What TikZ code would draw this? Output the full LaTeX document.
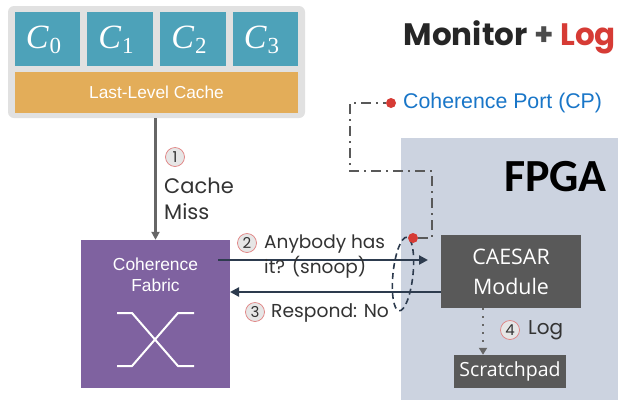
\documentclass[tikz,border=0pt]{standalone}
\usepackage{fontspec}
\setmainfont{Poppins}
\newfontfamily\lib{Liberation Sans}
\newfontfamily\lserif{Liberation Serif}
\newfontfamily\osans{Open Sans}
\newfontfamily\carl{Carlito}
\usetikzlibrary{arrows.meta,shapes.geometric}
\definecolor{cpubg}{HTML}{E1E1E1}
\definecolor{core}{HTML}{4DA2B9}
\definecolor{llc}{HTML}{E3AD59}
\definecolor{fabric}{HTML}{7F62A0}
\definecolor{fpgabg}{HTML}{CCD3E0}
\definecolor{darkbox}{HTML}{595959}
\definecolor{msgc}{HTML}{2D3B4E}
\definecolor{cpblue}{HTML}{1976C8}
\definecolor{redc}{HTML}{D63B35}
\definecolor{txt}{HTML}{333333}
\definecolor{grayline}{HTML}{666666}
\definecolor{stepring}{HTML}{E08080}
\definecolor{stepfill}{HTML}{E6E6E6}
\newcommand{\coresym}[1]{{\lserif\itshape C}\kern1pt\raisebox{-5pt}{\lserif\fontsize{23}{23}\selectfont #1}}
\begin{document}
\begin{tikzpicture}[x=1pt,y=-1pt,
  corebox/.style={draw=none,fill=core,inner sep=0pt,minimum width=65pt,minimum height=54pt,text=white,font=\fontsize{34}{38}\selectfont},
  darkbox/.style={fill=darkbox,inner sep=0pt,text=white,align=center},
  msg/.style={draw=msgc,line width=2.6pt,-{Triangle[length=9pt,width=9pt]}},
  stepnum/.style={circle,draw=stepring,line width=0.7pt,fill=stepfill,inner sep=0pt,minimum size=19pt,text=txt,font=\fontsize{15}{15}\selectfont},
  lbl/.style={text=txt,anchor=west,inner sep=0pt,align=left},
  reddot/.style={circle,fill=redc,inner sep=0pt,minimum size=10pt},
  port/.style={draw=black!65,line width=2.8pt,dash pattern=on 10pt off 5pt on 2pt off 5pt}
]
\useasboundingbox (0,0) rectangle (618,400);
\fill[white] (0,0) rectangle (618,400);

% FPGA region
\fill[fpgabg] (401,138) rectangle (618,400);
\node[anchor=east,inner sep=0pt,font=\carl\bfseries\fontsize{46}{46}\selectfont] (fpga) at (607,177) {FPGA};

% CPU
\node[fill=cpubg,rounded corners=6pt,minimum width=297pt,minimum height=112pt,inner sep=0pt] (cpu) at (156.5,62) {};
\node[corebox] (c0) at (47.5,39) {};
\node[corebox,minimum width=66pt] (c1) at (120,39) {};
\node[corebox,minimum width=66pt] (c2) at (193,39) {};
\node[corebox] (c3) at (265.5,39) {};
\node[text=white,inner sep=0pt,font=\fontsize{34}{38}\selectfont] (c0t) at ([xshift=-4pt,yshift=-1pt]c0.center) {\coresym{0}};
\node[text=white,inner sep=0pt,font=\fontsize{34}{38}\selectfont] (c1t) at ([xshift=-4pt,yshift=-1pt]c1.center) {\coresym{1}};
\node[text=white,inner sep=0pt,font=\fontsize{34}{38}\selectfont] (c2t) at ([xshift=-4pt,yshift=-1pt]c2.center) {\coresym{2}};
\node[text=white,inner sep=0pt,font=\fontsize{34}{38}\selectfont] (c3t) at ([xshift=-4pt,yshift=-1pt]c3.center) {\coresym{3}};
\node[fill=llc,minimum width=283pt,minimum height=41pt,inner sep=0pt,text=white,font=\lib\fontsize{17.3}{17.3}\selectfont] (llc) at (156.5,92.5) {Last-Level Cache};

% Coherence fabric
\node[fill=fabric,minimum width=149pt,minimum height=148pt,inner sep=0pt] (fab) at (155.5,314) {};
\node[text=white,align=center,inner sep=0pt,font=\lib\fontsize{17.4}{21}\selectfont] (fabt) at (155.5,274.5) {Coherence\\Fabric};
\draw[white,line width=2pt] (117,313)--(132,313)--(178,366)--(194,366);
\draw[white,line width=2pt] (194,313)--(178,313)--(132,366)--(117,366);

% CAESAR and scratchpad
\node[darkbox,minimum width=140pt,minimum height=73pt,font=\osans\fontsize{21.4}{30}\selectfont] (caesar) at (511,271.5) {CAESAR\\Module};
\node[darkbox,minimum width=112pt,minimum height=33pt,font=\osans\fontsize{19.5}{19.5}\selectfont] (scratch) at (510,371.5) {Scratchpad};

% Arrow 1
\draw[draw=grayline,line width=2.5pt,-{Triangle[length=8pt,width=8pt]}] (cpu.south -| fab.north) -- (fab.north);
\node[stepnum] (n1) at (175,157) {1};
\node[lbl,font=\fontsize{21}{26}\selectfont] (miss) at (164,199) {Cache\\Miss};

% Arrow 2 and 3
\coordinate (a2s) at (218,260);
\coordinate (a2e) at (428,260);
\draw[msg] (a2s) -- (a2e);
\coordinate (a3s) at (441,292);
\coordinate (a3e) at (230,292);
\draw[msg] (a3s) -- (a3e);
\node[stepnum] (n2) at (247,243) {2};
\node[lbl,font=\fontsize{18.5}{25}\selectfont] (snoop) at (264,257) {Anybody has\\it? (snoop)};
\node[stepnum] (n3) at (255,312) {3};
\node[lbl,font=\fontsize{18.7}{18.7}\selectfont] (resp) at (271,313) {Respond: No};

% snoop ellipse
\node[ellipse,draw=msgc,line width=1.6pt,dash pattern=on 6pt off 4pt,minimum width=20pt,minimum height=74pt,inner sep=0pt,rotate=-6] (ell) at (403,274) {};

% Coherence port
\node[reddot] (p1) at (413,238) {};
\node[reddot] (p2) at (391,103) {};
\coordinate (k1) at (432,238);
\coordinate (k2) at (432,171);
\coordinate (k3) at (350,171);
\coordinate (k4) at (350,103);
\draw[port] (p1.east) -- (k1) -- (k2) -- (k3) -- (k4) -- (p2.west);
\node[anchor=west,inner sep=0pt,text=cpblue,font=\lib\fontsize{21.3}{21.3}\selectfont] (cp) at (403,103) {Coherence Port (CP)};

% Log
\draw[draw=grayline,line width=2.5pt,dash pattern=on 2pt off 6pt,-{Triangle[length=7pt,width=8pt]}] (caesar.south -| 483,0) -- (scratch.north -| 483,0);
\node[stepnum] (n4) at (510,330) {4};
\node[lbl,font=\fontsize{20}{20}\selectfont] (log) at (528,330) {Log};

% Title
\node[anchor=east,inner sep=0pt,font=\bfseries\fontsize{31}{31}\selectfont] (title) at (616,37) {\color{black!85}Monitor \color{black!70}\textbf{+} \color{redc}Log};
\end{tikzpicture}
\end{document}
